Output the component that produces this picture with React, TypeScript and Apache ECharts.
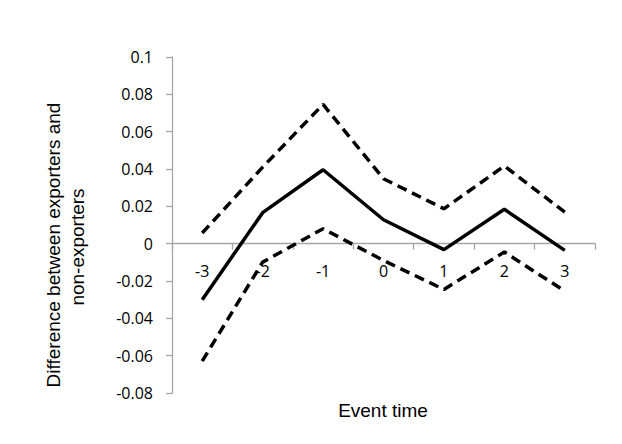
import React, { useEffect, useRef } from "react";
import * as echarts from "echarts";

const categories = ["-3", "-2", "-1", "0", "1", "2", "3"];
const estimate = [-0.03, 0.0166, 0.0396, 0.0128, -0.0032, 0.0184, -0.0036];
const upperBound = [0.0057, 0.041, 0.0746, 0.0348, 0.0187, 0.0416, 0.0169];
const lowerBound = [-0.0629, -0.0099, 0.008, -0.009, -0.0245, -0.0045, -0.0254];
const yTitleLines = ["Difference between exporters and", "non-exporters"];
const xTitle = "Event time";

const Y_MIN = -0.08;
const Y_MAX = 0.1;
const GRID_TOP = 57;
const GRID_BOTTOM = 51;
const CHART_H = 444;

export default function App() {
  const ref = useRef<HTMLDivElement>(null);
  useEffect(() => {
    if (!ref.current) return;
    const chart = echarts.init(ref.current, null, { renderer: "svg" });
    const axisColor = "#a6a6a6";
    const tickFont = { fontFamily: "Open Sans", fontSize: 16, color: "#000" };
    const dashed = { color: "#000", width: 3.5, type: [10, 6] as number[], cap: "butt" as const };
    const gridH = CHART_H - GRID_TOP - GRID_BOTTOM;
    const zeroOffset = -(gridH * (0 - Y_MIN)) / (Y_MAX - Y_MIN);
    const titleStyle = {
      fontFamily: "Liberation Sans",
      fontSize: 19,
      fill: "#000",
      align: "center",
      verticalAlign: "middle",
    };
    chart.setOption({
      animation: false,
      backgroundColor: "#fff",
      grid: { left: 172, right: 27, top: GRID_TOP, bottom: GRID_BOTTOM, containLabel: false },
      xAxis: {
        type: "category",
        data: categories,
        boundaryGap: true,
        offset: zeroOffset,
        axisLine: { onZero: false, lineStyle: { color: axisColor, width: 1.3 } },
        axisTick: { show: true, inside: false, length: 6, lineStyle: { color: axisColor, width: 1.3 } },
        axisLabel: { ...tickFont, margin: 19 },
        splitLine: { show: false },
      },
      yAxis: {
        type: "value",
        min: Y_MIN,
        max: Y_MAX,
        interval: 0.02,
        axisLine: { show: true, lineStyle: { color: axisColor, width: 1.3 } },
        axisTick: { show: true, inside: false, length: 6, lineStyle: { color: axisColor, width: 1.3 } },
        axisLabel: {
          ...tickFont,
          margin: 19,
          formatter: (v: number) => String(parseFloat(v.toFixed(2))),
        },
        splitLine: { show: false },
      },
      graphic: [
        {
          type: "text",
          x: 53,
          y: 245,
          rotation: Math.PI / 2,
          style: { ...titleStyle, text: yTitleLines[0] },
        },
        {
          type: "text",
          x: 77,
          y: 247,
          rotation: Math.PI / 2,
          style: { ...titleStyle, text: yTitleLines[1] },
        },
        {
          type: "text",
          x: 383,
          y: 410,
          style: { ...titleStyle, text: xTitle },
        },
      ],
      series: [
        {
          name: "Upper",
          type: "line",
          data: upperBound,
          symbol: "none",
          lineStyle: dashed,
          itemStyle: { color: "#000" },
        },
        {
          name: "Estimate",
          type: "line",
          data: estimate,
          symbol: "none",
          lineStyle: { color: "#000", width: 3.5 },
          itemStyle: { color: "#000" },
        },
        {
          name: "Lower",
          type: "line",
          data: lowerBound,
          symbol: "none",
          lineStyle: dashed,
          itemStyle: { color: "#000" },
        },
      ],
    });
    return () => chart.dispose();
  }, []);
  return (
    <div
      ref={ref}
      style={{ position: "fixed", left: 0, top: 0, width: 622, height: 444, background: "#fff" }}
    />
  );
}
